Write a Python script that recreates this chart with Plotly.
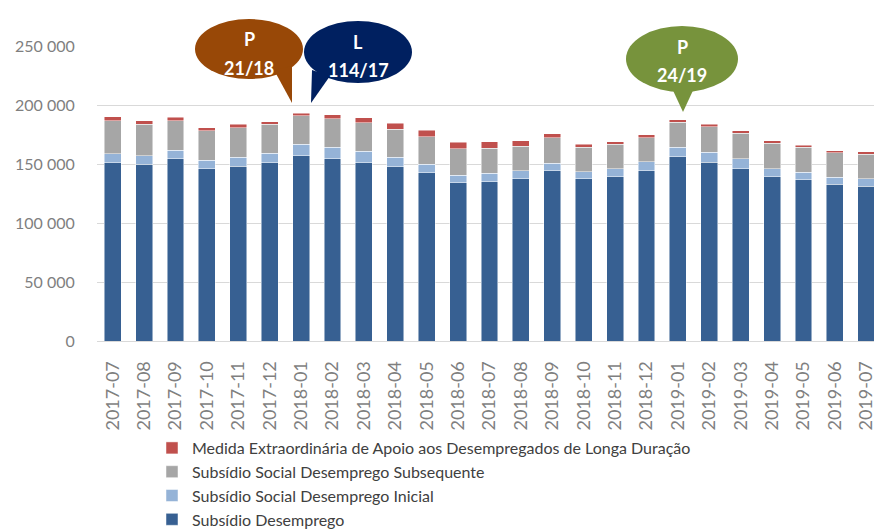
import plotly.graph_objects as go

months = ["2017-07", "2017-08", "2017-09", "2017-10", "2017-11", "2017-12",
          "2018-01", "2018-02", "2018-03", "2018-04", "2018-05", "2018-06",
          "2018-07", "2018-08", "2018-09", "2018-10", "2018-11", "2018-12",
          "2019-01", "2019-02", "2019-03", "2019-04", "2019-05", "2019-06", "2019-07"]

subsidio_desemprego = [151100, 149750, 154250, 146050, 148300, 151100,
                       157050, 154500, 151100, 147700, 142650, 134150,
                       135000, 137300, 144350, 137300, 139250, 144100,
                       155950, 151450, 146050, 139000, 136450, 132800, 131350]
ssd_inicial = [7600, 7300, 7350, 7050, 7400, 8200,
               9900, 9900, 9650, 8000, 7350, 6250,
               7100, 6800, 6250, 6200, 6800, 7600,
               8450, 8450, 8200, 7050, 6750, 5900, 5950]
ssd_subsequente = [28000, 26600, 25100, 24900, 25100, 24350,
                   24000, 23750, 24000, 23700, 23150, 22550,
                   21450, 21150, 21450, 20650, 20900, 20350,
                   20950, 21750, 21750, 21500, 21200, 20900, 20900]
medida_extra = [3400, 2800, 2900, 2800, 3100, 1950,
                2050, 3400, 4250, 5100, 5400, 5450,
                5100, 4500, 3650, 2800, 1950, 2550,
                1950, 2250, 2000, 1950, 1700, 1700, 2000]

y_tickvals = [0, 50000, 100000, 150000, 200000, 250000]
y_ticktext = ["0", "50 000", "100 000", "150 000", "200 000", "250 000"]

series_names = ["Subsídio Desemprego", "Subsídio Social Desemprego Inicial",
                "Subsídio Social Desemprego Subsequente",
                "Medida Extraordinária de Apoio aos Desempregados de Longa Duração"]
series_values = [subsidio_desemprego, ssd_inicial, ssd_subsequente, medida_extra]
series_colors = ["#376092", "#95B3D7", "#A6A6A6", "#C0504D"]

bubbles = [
    {"line1": "P", "line2": "21/18", "color": "#984807"},
    {"line1": "L", "line2": "114/17", "color": "#002060"},
    {"line1": "P", "line2": "24/19", "color": "#77933C"},
]

FONT = "Lato, Liberation Sans, sans-serif"

fig = go.Figure()
for name, vals, col in zip(series_names, series_values, series_colors):
    fig.add_trace(go.Bar(x=months, y=vals, name=name,
                         marker=dict(color=col, line=dict(color="rgba(255,255,255,0.6)", width=0.8))))

# page offset (browser body margin) and plot area in screen pixels
OFF = 8
W, H = 882 - OFF, 530 - OFF
L, R, T, B = 97, 882, 46, 341
def px(x):
    return (x - L) / (R - L)
def py(y):
    return (B - y) / (B - T)

shapes = []
annotations = []
geo = [
    dict(cx=249, cy=49, rx=54, ry=30, tail=[(274, 70), (292, 66), (292, 103)], t1=39, t2=68),
    dict(cx=358, cy=52, rx=54, ry=31, tail=[(312, 70), (330, 76), (311, 103)], t1=42, t2=70),
    dict(cx=682, cy=59, rx=56, ry=33, tail=[(670, 84), (696, 84), (683, 112)], t1=47, t2=75),
]
for b, g in zip(bubbles, geo):
    shapes.append(dict(type="circle", xref="paper", yref="paper",
                       x0=px(g["cx"] - g["rx"]), x1=px(g["cx"] + g["rx"]),
                       y0=py(g["cy"] + g["ry"]), y1=py(g["cy"] - g["ry"]),
                       fillcolor=b["color"], line=dict(width=0), layer="above"))
    pts = g["tail"]
    path = "M {} {} L {} {} L {} {} Z".format(px(pts[0][0]), py(pts[0][1]),
                                              px(pts[1][0]), py(pts[1][1]),
                                              px(pts[2][0]), py(pts[2][1]))
    shapes.append(dict(type="path", xref="paper", yref="paper", path=path,
                       fillcolor=b["color"], line=dict(width=0), layer="above"))
    annotations.append(dict(xref="paper", yref="paper", x=px(g["cx"]), y=py(g["t1"]),
                            text="<b>%s</b>" % b["line1"], showarrow=False,
                            font=dict(family=FONT, size=18, color="white"),
                            xanchor="center", yanchor="middle"))
    annotations.append(dict(xref="paper", yref="paper", x=px(g["cx"]), y=py(g["t2"]),
                            text="<b>%s</b>" % b["line2"], showarrow=False,
                            font=dict(family=FONT, size=18, color="white"),
                            xanchor="center", yanchor="middle"))

fig.update_layout(
    barmode="stack",
    bargap=0.46,
    width=W, height=H,
    margin=dict(l=L - OFF, r=882 - R, t=T - OFF, b=H - (B - OFF), pad=0, autoexpand=False),
    paper_bgcolor="white", plot_bgcolor="white",
    font=dict(family=FONT, color="#595959"),
    shapes=shapes,
    annotations=annotations,
    legend=dict(orientation="v", traceorder="reversed", x=px(152), y=py(431),
                xanchor="left", yanchor="top", font=dict(size=16, color="#404040"),
                bgcolor="rgba(0,0,0,0)", itemclick=False),
    xaxis=dict(type="category", tickangle=-90, tickfont=dict(size=18, color="#7F7F7F"),
               showgrid=False, showline=True, linecolor="#D9D9D9", linewidth=1,
               ticks="outside", ticklen=12, tickcolor="rgba(0,0,0,0)", automargin=False),
    yaxis=dict(range=[0, 250000], tickvals=y_tickvals, ticktext=y_ticktext,
               tickfont=dict(size=16, color="#7F7F7F"), showgrid=True,
               gridcolor="#D9D9D9", gridwidth=1, zeroline=False, showline=False,
               ticks="outside", ticklen=18, tickcolor="rgba(0,0,0,0)", automargin=False),
)

fig.write_html("out.html")
